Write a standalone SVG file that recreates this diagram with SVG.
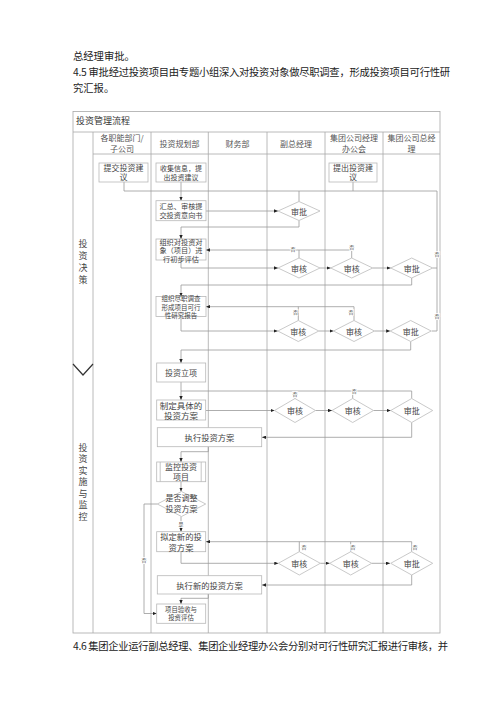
<svg xmlns="http://www.w3.org/2000/svg" width="500" height="707" viewBox="0 0 500 707">
<style>
text{font-family:"Noto Sans CJK SC","Noto Sans",sans-serif;dominant-baseline:central;}
.body{font-size:10.3px;fill:#222;}
.t{fill:#444;text-anchor:middle;}
.grid{stroke:#a8a8a8;stroke-width:0.8;fill:none;}
.box{fill:#fff;stroke:#b8b8b8;stroke-width:0.8;}
.dia{fill:#fff;stroke:#bbb;stroke-width:0.8;}
.ln{fill:none;stroke:#999;stroke-width:0.8;}
.ar{marker-end:url(#ah);}
.no{font-size:5px;fill:#555;text-anchor:middle;stroke:#fff;stroke-width:1.5px;paint-order:stroke;}
</style>
<defs>
<marker id="ah" markerUnits="userSpaceOnUse" markerWidth="4" markerHeight="3.4" refX="4" refY="1.7" orient="auto">
<path d="M0,0 L4,1.7 L0,3.4 z" fill="#222"/>
</marker>
</defs>
<rect width="500" height="707" fill="#fff"/>

<g id="page-text">
<text class="body" x="73" y="55">总经理审批。</text>
<text class="body" x="73" y="71.5" textLength="377" lengthAdjust="spacing">4.5 审批经过投资项目由专题小组深入对投资对象做尽职调查，形成投资项目可行性研</text>
<text class="body" x="73" y="87.5">究汇报。</text>
<text class="body" x="73" y="645" textLength="375" lengthAdjust="spacing">4.6 集团企业运行副总经理、集团企业经理办公会分别对可行性研究汇报进行审核，并</text>
</g>

<g id="table">
<rect class="grid" x="73" y="111.5" width="367" height="521.5"/>
<line class="grid" x1="73" y1="132" x2="440" y2="132"/>
<line class="grid" x1="93" y1="154" x2="440" y2="154"/>
<line class="grid" x1="93" y1="132" x2="93" y2="633"/>
<line class="grid" x1="151" y1="132" x2="151" y2="633"/>
<line class="grid" x1="208.3" y1="132" x2="208.3" y2="633"/>
<line class="grid" x1="267" y1="132" x2="267" y2="633"/>
<line class="grid" x1="325" y1="132" x2="325" y2="633"/>
<line class="grid" x1="383" y1="132" x2="383" y2="633"/>
<path d="M73,364 L83,375 L93,364" fill="none" stroke="#333" stroke-width="1.2"/>
<text x="76" y="120" style="font-size:9px;fill:#333">投资管理流程</text>
<g class="t" style="font-size:8px;fill:#555">
<text x="122" y="137.5">各职能部门/</text>
<text x="122" y="148">子公司</text>
<text x="179.5" y="143">投资规划部</text>
<text x="237.5" y="143">财务部</text>
<text x="296" y="143">副总经理</text>
<text x="354" y="137.5">集团公司经理</text>
<text x="354" y="148">办公会</text>
<text x="411.5" y="137.5">集团公司总经</text>
<text x="411.5" y="148">理</text>
</g>
<g class="t" style="font-size:9px;fill:#444">
<text x="83" y="243">投</text>
<text x="83" y="255">资</text>
<text x="83" y="267">决</text>
<text x="83" y="279">策</text>
</g>
<g class="t" style="font-size:9px;fill:#444">
<text x="83" y="447">投</text>
<text x="83" y="458.5">资</text>
<text x="83" y="470">实</text>
<text x="83" y="481.5">施</text>
<text x="83" y="493">与</text>
<text x="83" y="504.5">监</text>
<text x="83" y="516">控</text>
</g>
</g>

<g id="connectors">
<path class="ln" d="M124,182 V191 M181,182 V191 M353,182 V191 M124,191 H437 V331 M432.7,268 H437 M431.7,331 H437"/>
<path class="ln ar" d="M181,191 V200.7"/>
<path class="ln ar" d="M206,211 H278"/>
<path class="ln" d="M299,201.5 V191"/>
<path class="ln ar" d="M299,220.5 V227 H181 V239"/>
<path class="ln ar" d="M351.7,258 V250 H206"/>
<path class="ln" d="M299,258 V250"/>
<path class="ln ar" d="M181,260 V268 H278"/>
<path class="ln ar" d="M320,268 H330.7"/>
<path class="ln ar" d="M372.7,268 H390.7"/>
<path class="ln ar" d="M411.7,278 V285 H181 V296.5"/>
<path class="ln ar" d="M354,320.5 V306.7 H206"/>
<path class="ln" d="M298.3,320.5 V306.7"/>
<path class="ln ar" d="M181,316.5 V331 H277.8"/>
<path class="ln ar" d="M318.8,331 H333.5"/>
<path class="ln ar" d="M374.5,331 H390.2"/>
<path class="ln ar" d="M410.7,341.5 V350 H181 V363"/>
<path class="ln ar" d="M181,382 V400"/>
<path class="ln" d="M181,391 H411.7 V398.5 M295,391 V398.5 M352.7,391 V398.5"/>
<path class="ln ar" d="M206,410.5 H274.5"/>
<path class="ln ar" d="M315.5,410.5 H332"/>
<path class="ln ar" d="M373.5,410.5 H390.7"/>
<path class="ln ar" d="M411.7,422.5 V437.3 H262"/>
<path class="ln ar" d="M208.3,446.7 V451.7 H181 V462"/>
<path class="ln ar" d="M181,481.7 V491.5"/>
<path class="ln ar" d="M181,516.5 V531.7"/>
<path class="ln ar" d="M157.3,504 H144 V613.5 H156.7"/>
<path class="ln ar" d="M411.7,551.7 V541.7 H206"/>
<path class="ln" d="M299.3,551.7 V541.7 M350.7,551.7 V541.7"/>
<path class="ln ar" d="M181,551.7 V563.3 H278.3"/>
<path class="ln ar" d="M320.3,563.3 H329.7"/>
<path class="ln ar" d="M371.7,563.3 H390"/>
<path class="ln ar" d="M411.7,575 V585 H262"/>
<path class="ln ar" d="M208.3,594 V598.3 H181 V604"/>
<text class="no" x="437" y="253">否</text>
<text class="no" x="437" y="315">否</text>
<text class="no" x="293" y="248.5">否</text>
<text class="no" x="351.7" y="246.5">否</text>
<text class="no" x="295.5" y="311">否</text>
<text class="no" x="351" y="311">否</text>
<text class="no" x="295" y="393.5">否</text>
<text class="no" x="354.3" y="390.5">否</text>
<text class="no" x="181" y="523.5">是</text>
<text class="no" x="144" y="559">否</text>
<text class="no" x="304" y="546.7">否</text>
<text class="no" x="353" y="546.7">否</text>
<text class="no" x="415" y="546.7">否</text>
</g>

<g id="n-tijiao">
<rect class="box" x="99" y="163" width="49" height="19"/>
<text class="t" x="123.5" y="167" style="font-size:8px">提交投资建</text>
<text class="t" x="123.5" y="176.5" style="font-size:8px">议</text>
</g>
<g id="n-shouji">
<rect class="box" x="156" y="163" width="50" height="19"/>
<text class="t" x="181" y="167.5" style="font-size:7px">收集信息，提</text>
<text class="t" x="181" y="176.5" style="font-size:7px">出投资建议</text>
</g>
<g id="n-tichu">
<rect class="box" x="329" y="163" width="48" height="19"/>
<text class="t" x="353" y="167" style="font-size:8px">提出投资建</text>
<text class="t" x="353" y="176.5" style="font-size:8px">议</text>
</g>
<g id="n-huizong">
<rect class="box" x="156" y="200.7" width="50" height="20"/>
<text class="t" x="181" y="206" style="font-size:7.2px">汇总、审核提</text>
<text class="t" x="181" y="215" style="font-size:7.2px">交投资意向书</text>
</g>
<g id="n-chubu">
<rect class="box" x="156" y="239" width="50" height="21"/>
<text class="t" x="181" y="241.5" style="font-size:7.2px">组织对投资对</text>
<text class="t" x="181" y="250" style="font-size:7.2px">象（项目）进</text>
<text class="t" x="181" y="258.5" style="font-size:7.2px">行初步评估</text>
</g>
<g id="n-jinzhi">
<rect class="box" x="156" y="296.5" width="50" height="20"/>
<text class="t" x="181" y="297.8" style="font-size:6.5px">组织尽职调查</text>
<text class="t" x="181" y="306.6" style="font-size:6.5px">形成项目可行</text>
<text class="t" x="181" y="315.4" style="font-size:6.5px">性研究报告</text>
</g>
<g id="n-lixiang">
<rect class="box" x="156.7" y="363" width="49" height="19"/>
<text class="t" x="181" y="372.5" style="font-size:8px">投资立项</text>
</g>
<g id="n-zhiding">
<rect class="box" x="156.7" y="400" width="49" height="20"/>
<text class="t" x="181" y="404.7" style="font-size:8.5px">制定具体的</text>
<text class="t" x="181" y="415.3" style="font-size:8.5px">投资方案</text>
</g>
<g id="n-zhixing">
<rect class="box" x="157.3" y="427.7" width="104.4" height="19"/>
<text class="t" x="209.5" y="437.3" style="font-size:8.3px">执行投资方案</text>
</g>
<g id="n-jiankong">
<rect class="box" x="156.7" y="462" width="49" height="19.7"/>
<line class="box" x1="160.2" y1="462" x2="160.2" y2="481.7"/>
<line class="box" x1="201.2" y1="462" x2="201.2" y2="481.7"/>
<text class="t" x="181" y="466.3" style="font-size:8px">监控投资</text>
<text class="t" x="181" y="476" style="font-size:8px">项目</text>
</g>
<g id="n-tiaozheng">
<polygon class="dia" points="181.5,491.5 205.7,504 181.5,516.5 157.3,504"/>
<text class="t" x="181.5" y="497" style="font-size:8px">是否调整</text>
<text class="t" x="181.5" y="508.3" style="font-size:8px">投资方案</text>
</g>
<g id="n-niding">
<rect class="box" x="156.7" y="531.7" width="49" height="20"/>
<text class="t" x="181" y="536" style="font-size:8.3px">拟定新的投</text>
<text class="t" x="181" y="546.7" style="font-size:8.3px">资方案</text>
</g>
<g id="n-zhixingxin">
<rect class="box" x="157.3" y="575.7" width="104.4" height="18.3"/>
<text class="t" x="209.5" y="584.6" style="font-size:8.3px">执行新的投资方案</text>
</g>
<g id="n-yanshou">
<rect class="box" x="156.7" y="604" width="49" height="19.3"/>
<text class="t" x="181" y="609" style="font-size:6.4px">项目验收与</text>
<text class="t" x="181" y="617.8" style="font-size:6.4px">投资评估</text>
</g>

<g id="n-d1"><polygon class="dia" points="299,201.5 320,211 299,220.5 278,211"/><text class="t" x="299" y="211" style="font-size:8px">审批</text></g>
<g id="n-d2a"><polygon class="dia" points="299,258 320,268 299,278 278,268"/><text class="t" x="299" y="268" style="font-size:8px">审核</text></g>
<g id="n-d2b"><polygon class="dia" points="351.7,258 372.7,268 351.7,278 330.7,268"/><text class="t" x="351.7" y="268" style="font-size:8px">审核</text></g>
<g id="n-d2c"><polygon class="dia" points="411.7,258 432.7,268 411.7,278 390.7,268"/><text class="t" x="411.7" y="268" style="font-size:8px">审批</text></g>
<g id="n-d3a"><polygon class="dia" points="298.3,320.5 318.8,331 298.3,341.5 277.8,331"/><text class="t" x="298.3" y="331" style="font-size:8px">审核</text></g>
<g id="n-d3b"><polygon class="dia" points="354,320.5 374.5,331 354,341.5 333.5,331"/><text class="t" x="354" y="331" style="font-size:8px">审核</text></g>
<g id="n-d3c"><polygon class="dia" points="410.7,320.5 431.2,331 410.7,341.5 390.2,331"/><text class="t" x="410.7" y="331" style="font-size:8px">审批</text></g>
<g id="n-d4a"><polygon class="dia" points="295,398.5 315.5,410.5 295,422.5 274.5,410.5"/><text class="t" x="295" y="410.5" style="font-size:8px">审核</text></g>
<g id="n-d4b"><polygon class="dia" points="352.7,398.5 373.5,410.5 352.7,422.5 332,410.5"/><text class="t" x="352.7" y="410.5" style="font-size:8px">审核</text></g>
<g id="n-d4c"><polygon class="dia" points="411.7,398.5 432.7,410.5 411.7,422.5 390.7,410.5"/><text class="t" x="411.7" y="410.5" style="font-size:8px">审批</text></g>
<g id="n-d5a"><polygon class="dia" points="299.3,551.7 320.3,563.3 299.3,575 278.3,563.3"/><text class="t" x="299.3" y="563.3" style="font-size:8px">审核</text></g>
<g id="n-d5b"><polygon class="dia" points="350.7,551.7 371.7,563.3 350.7,575 329.7,563.3"/><text class="t" x="350.7" y="563.3" style="font-size:8px">审核</text></g>
<g id="n-d5c"><polygon class="dia" points="411.7,551.7 432.7,563.3 411.7,575 390.7,563.3"/><text class="t" x="411.7" y="563.3" style="font-size:8px">审批</text></g>
</svg>
